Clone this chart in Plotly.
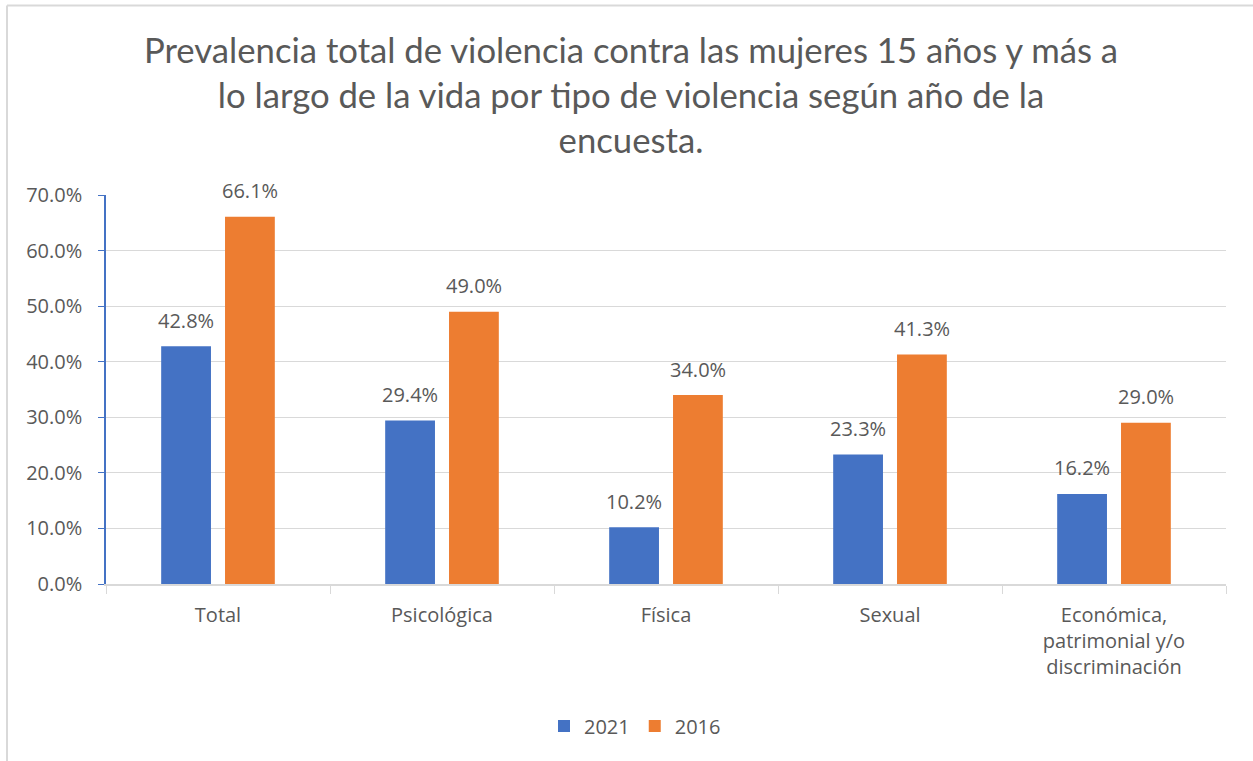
import plotly.graph_objects as go

categories = ["Total", "Psicológica", "Física", "Sexual", "Económica,<br>patrimonial y/o<br>discriminación"]
values_2021 = [0.428, 0.294, 0.102, 0.233, 0.162]
values_2016 = [0.661, 0.490, 0.340, 0.413, 0.290]
y_ticks = [0, 0.1, 0.2, 0.3, 0.4, 0.5, 0.6, 0.7]

FONT = "Open Sans"
TFONT = "Lato"
GRAY = "#595959"
BLUE = "#4472C4"
ORANGE = "#ED7D31"

fig = go.Figure()
fig.add_trace(go.Bar(name="2021", x=categories, y=values_2021, marker_color=BLUE,
                     marker_line_width=0))
fig.add_trace(go.Bar(name="2016", x=categories, y=values_2016, marker_color=ORANGE,
                     marker_line_width=0))

W, H = 1253, 761
L, R, T, B = 106, 27, 195, 177
pw, ph = W - L - R, H - T - B

def px(x):
    return (x - L) / pw

def py(y):
    return (H - B - y) / ph

annotations = []
for vals, shift in ((values_2021, -32), (values_2016, 32)):
    for c, v in zip(categories, vals):
        annotations.append(dict(x=c, y=v, xref="x", yref="y", text=f"{v*100:.1f}%",
                                showarrow=False, xshift=shift, yshift=26,
                                yanchor="middle", xanchor="center",
                                font=dict(size=20, color=GRAY, family=FONT)))

fig.update_layout(
    width=W, height=H,
    margin=dict(l=L, r=R, t=T, b=B, autoexpand=False),
    paper_bgcolor="white", plot_bgcolor="white",
    barmode="group", bargap=0.43, bargroupgap=0.22,
    font=dict(family=FONT, color=GRAY, size=20),
    title=dict(text="Prevalencia total de violencia contra las mujeres 15 años y más a<br>lo largo de la vida por tipo de violencia según año de la<br>encuesta.",
               x=631 / W, xref="container", xanchor="center", y=1 - 63 / H, yanchor="middle",
               font=dict(size=34.7, color=GRAY, family=TFONT)),
    showlegend=True,
    legend=dict(orientation="h", x=635 / W, xanchor="center", y=py(726), yanchor="middle",
                xref="container", itemwidth=30,
                font=dict(size=20, color=GRAY, family=FONT)),
    yaxis=dict(range=[0, 0.7], tickvals=y_ticks, tickformat=".1%", showgrid=True,
               gridcolor="#D9D9D9", gridwidth=1, showline=True, linecolor=BLUE,
               linewidth=1.5, ticks="outside", ticklen=6, tickcolor=BLUE,
               ticklabelstandoff=12,
               tickfont=dict(size=20, color=GRAY, family=FONT), zeroline=False),
    xaxis=dict(showline=True, linecolor="#D9D9D9", linewidth=1.5, ticks="outside",
               tickson="boundaries", ticklen=8, tickcolor="#D9D9D9",
               ticklabelstandoff=12,
               tickfont=dict(size=20, color=GRAY, family=FONT)),
    annotations=annotations,
    shapes=[
        dict(type="line", xref="paper", yref="paper", x0=px(7), x1=px(W + 5),
             y0=py(5.5), y1=py(5.5), line=dict(color="#D9D9D9", width=2)),
        dict(type="line", xref="paper", yref="paper", x0=px(7), x1=px(7),
             y0=py(5.5), y1=py(H + 5), line=dict(color="#D9D9D9", width=2)),
    ],
)

fig.write_html("out.html", config={"displayModeBar": False},
               post_script="document.body.style.margin='0px';")
